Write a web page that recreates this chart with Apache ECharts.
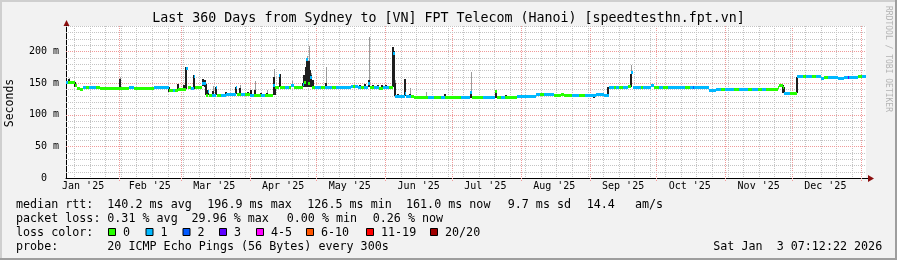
<!DOCTYPE html>
<html><head><meta charset="utf-8">
<script src="https://cdn.jsdelivr.net/npm/echarts@6/dist/echarts.min.js"></script>
<style>html,body{margin:0;padding:0;background:#f2f2f2}#c{width:897px;height:260px}</style>
</head><body><div id="c"></div>
<script>
// ---------------- data ----------------
const chartStart = '2025-01-08 07:12';
const chartEnd = '2026-01-03 07:12';
const monthStarts = ['2025-02-01','2025-03-01','2025-04-01','2025-05-01','2025-06-01','2025-07-01','2025-08-01','2025-09-01','2025-10-01','2025-11-01','2025-12-01','2026-01-01'];
const monthLabelDates = ['2025-01-16','2025-02-15','2025-03-16','2025-04-16','2025-05-16','2025-06-16','2025-07-16','2025-08-16','2025-09-16','2025-10-16','2025-11-16','2025-12-16'];
const monthLabels = ["Jan '25","Feb '25","Mar '25","Apr '25","May '25","Jun '25","Jul '25","Aug '25","Sep '25","Oct '25","Nov '25","Dec '25"];
const firstWeekLine = '2025-01-12';
const yMinorTicks = [10,20,30,40,60,70,80,90,110,120,130,140,160,170,180,190,210,220,230,240];
const yMajorTicks = [50,100,150,200];
const yLabelValues = [0,50,100,150,200];
const yLabelTexts = ['0  ','50 m','100 m','150 m','200 m'];

const medianStart = [
'2025-01-08 07:12','2025-01-09 00:00','2025-01-12 06:00','2025-01-13 06:00','2025-01-14 18:00','2025-01-16 00:00','2025-01-17 12:00','2025-01-18 12:00','2025-01-22 00:00','2025-01-23 12:00',
'2025-02-05 12:00','2025-02-07 18:00','2025-02-16 18:00','2025-02-23 18:00','2025-02-25 12:00','2025-02-26 12:00','2025-02-27 18:00',
'2025-03-03 06:00','2025-03-04 06:00','2025-03-05 12:00','2025-03-06 18:00','2025-03-07 06:00','2025-03-10 12:00','2025-03-12 06:00','2025-03-13 06:00','2025-03-13 18:00','2025-03-15 00:00','2025-03-16 18:00','2025-03-17 06:00','2025-03-19 00:00','2025-03-21 12:00','2025-03-25 18:00','2025-03-26 06:00','2025-03-28 00:00','2025-03-30 00:00',
'2025-04-01 00:00','2025-04-03 00:00','2025-04-06 00:00','2025-04-08 00:00','2025-04-11 12:00','2025-04-12 12:00','2025-04-14 06:00','2025-04-14 18:00','2025-04-17 00:00','2025-04-18 12:00','2025-04-19 12:00','2025-04-21 00:00','2025-04-24 18:00','2025-04-25 12:00','2025-04-26 12:00','2025-04-27 06:00','2025-04-28 06:00','2025-04-29 00:00','2025-04-30 12:00',
'2025-05-03 00:00','2025-05-05 00:00','2025-05-08 00:00','2025-05-10 00:00','2025-05-16 12:00','2025-05-17 12:00','2025-05-18 12:00','2025-05-19 12:00','2025-05-21 00:00','2025-05-22 12:00','2025-05-24 06:00','2025-05-25 00:00','2025-05-27 00:00','2025-05-29 00:00','2025-05-31 00:00',
'2025-06-02 12:00','2025-06-04 06:00','2025-06-05 12:00','2025-06-09 18:00','2025-06-10 12:00','2025-06-12 18:00','2025-06-14 00:00','2025-06-20 00:00','2025-06-23 00:00','2025-06-26 00:00','2025-06-28 00:00',
'2025-07-05 00:00','2025-07-09 06:00','2025-07-10 00:00','2025-07-15 00:00','2025-07-20 12:00','2025-07-21 06:00','2025-07-23 00:00','2025-07-25 00:00','2025-07-30 06:00',
'2025-08-07 18:00','2025-08-09 12:00','2025-08-11 12:00','2025-08-13 18:00','2025-08-16 00:00','2025-08-19 00:00','2025-08-20 12:00','2025-08-24 00:00','2025-08-27 00:00','2025-08-30 00:00',
'2025-09-03 18:00','2025-09-07 12:00','2025-09-09 18:00','2025-09-12 00:00','2025-09-13 00:00','2025-09-14 06:00','2025-09-16 00:00','2025-09-18 00:00','2025-09-19 12:00','2025-09-20 12:00','2025-09-24 00:00','2025-09-25 00:00','2025-09-28 12:00','2025-09-30 00:00',
'2025-10-02 00:00','2025-10-04 00:00','2025-10-06 00:00','2025-10-08 06:00','2025-10-14 00:00','2025-10-16 00:00','2025-10-17 12:00','2025-10-18 00:00','2025-10-24 18:00','2025-10-27 18:00','2025-10-30 00:00',
'2025-11-01 00:00','2025-11-05 00:00','2025-11-07 00:00','2025-11-11 00:00','2025-11-13 00:00','2025-11-15 12:00','2025-11-17 12:00','2025-11-19 12:00','2025-11-24 12:00','2025-11-25 06:00','2025-11-26 18:00','2025-11-27 12:00','2025-11-30 00:00',
'2025-12-03 06:00','2025-12-06 00:00','2025-12-07 12:00','2025-12-10 00:00','2025-12-12 00:00','2025-12-14 00:00','2025-12-15 12:00','2025-12-17 00:00','2025-12-21 12:00','2025-12-24 12:00','2025-12-26 00:00','2025-12-26 12:00','2025-12-30 12:00','2026-01-01 12:00'
];
const medianValue = [
151,151,147,142.5,141,143.5,143,143,143.5,141.5,
143.5,141.5,143.5,139,139,139,140.5,
174,143,142,161,144,149.5,131,138,131,131,143,131,131.5,132,143,132,132,132,
131.5,131.5,131.5,131.5,147,143.5,162,143.5,143.5,143.5,147,143.5,148,152,188,150,159,144,144,
144,144,144,144,146,146,146,144,144,144,150,143.5,143.5,142,143.5,
143,196.9,129.4,133.7,129.4,129,127.3,127.3,127.3,127.3,128,
128,136,127.3,127.3,137,127.8,127.8,128.4,130,
132.7,132,132,133,131.6,133,131.6,131.6,131.6,131.6,
133,131,143.5,143.5,143.5,144,144,146,167,143.5,143.5,143.5,147,143,
143,143,143,144,144,144,144,144,139,141,141,
141,141,141,141,141,140,140,140,143,147,143,134,134,
160.5,160.5,160.5,160.5,160.5,158,160,160,158.5,159,159,159,161,161
];
const medianLoss = [
1,0,0,0,0,1,0,1,0,0,
1,0,1,0,1,0,0,
1,0,1,1,0,1,0,1,0,1,1,0,1,1,1,0,1,0,
1,0,1,0,1,0,1,0,1,0,1,0,1,0,1,0,1,0,1,
0,1,0,1,1,0,1,1,0,1,1,0,1,0,1,
0,1,1,1,1,0,0,1,0,1,0,
1,1,0,1,0,0,1,0,1,
1,0,1,1,0,0,0,1,0,1,
1,1,1,0,1,0,1,0,1,1,0,1,1,0,
1,0,1,1,0,1,2,1,1,1,0,
1,0,1,0,1,0,1,0,0,0,0,1,0,
1,0,1,0,1,1,0,1,1,1,3,1,0,1
];

const smokeDate = ['2025-01-09 14:00','2025-01-12 12:00','2025-02-01 14:00','2025-02-23 18:00','2025-02-27 18:00','2025-03-02 12:00','2025-03-03 12:00','2025-03-06 18:00','2025-03-10 18:00','2025-03-11 18:00','2025-03-12 06:00','2025-03-13 06:00','2025-03-15 06:00','2025-03-16 18:00','2025-03-21 12:00','2025-03-25 18:00','2025-03-27 18:00','2025-03-31 00:00','2025-04-01 18:00','2025-04-03 12:00','2025-04-06 00:00','2025-04-08 18:00','2025-04-11 18:00','2025-04-12 06:00','2025-04-14 12:00','2025-04-20 00:00','2025-04-24 18:00','2025-04-25 12:00','2025-04-26 06:00','2025-04-26 18:00','2025-04-27 12:00','2025-04-28 00:00','2025-04-28 12:00','2025-04-29 06:00','2025-05-05 06:00','2025-05-20 12:00','2025-05-22 18:00','2025-05-24 12:00','2025-05-26 12:00','2025-05-28 18:00','2025-05-30 12:00','2025-06-01 06:00','2025-06-04 06:00','2025-06-04 18:00','2025-06-05 12:00','2025-06-06 12:00','2025-06-09 18:00','2025-06-12 06:00','2025-06-19 06:00','2025-06-27 18:00','2025-07-09 12:00','2025-07-20 18:00','2025-07-25 12:00','2025-09-03 00:00','2025-09-09 06:00','2025-09-18 12:00','2025-09-19 12:00','2025-11-26 18:00','2025-11-27 06:00','2025-12-03 06:00'];
const smokeLow  = [148,143,141,136,140,140,140,141,145,144,131,131,131,131,131,132,132,132,132,132,131,131,131,131,143,143,143,143,143,143,143,143,143,143,143,143,143,143,143,143,143,143,143,143,129,129,129,129,127,127,127,127,127,127,131,143,143,134,134,134];
const smokeHigh = [157,151,157,143,148,147,175,163,157,155,148,139,138,144,136,144,141.6,136,138.4,138.4,135,135,159,145,165,147,150,163,175,189,185,170,162,155,150,147,148,155,147,147,147,147,207,200,150,133,157,133,127,132,136,137,131,132,143.5,147,165,147,143,160];
const smokeTop  = [158,151,159,143,148,147,175,163,157,155,148,139,145,144,136,144,147,136,138.4,153,135,139,172,145,165,153,150,163,175,192,208,170,166,155,176,147,148,223,147,147,147,147,207,200,155,133,157,141.6,136,132,168,137,131,132,143.5,147,178,147,143,160];

const lossLabels = ['0','1','2','3','4-5','6-10','11-19','20/20'];
const lossColors = ['#26ff00','#00b8ff','#0059ff','#5e00ff','#ff00ff','#ff5500','#ff0000','#a00000'];

const titleText = 'Last 360 Days from Sydney to [VN] FPT Telecom (Hanoi) [speedtesthn.fpt.vn]';
const legendRows = [
  [['median rtt:',16],['140.2 ms avg',107.3],['196.9 ms max',207.3],['126.5 ms min',307.3],['161.0 ms now',406],['9.7 ms sd',507.7],['14.4',586.7],['am/s',635]],
  [['packet loss:',16],['0.31 % avg',107.3],['29.96 % max',191.5],['0.00 % min',286.7],['0.26 % now',372.7]],
  [['loss color:',16]],
  [['probe:',16],['20 ICMP Echo Pings (56 Bytes) every 300s',107.3],['Sat Jan  3 07:12:22 2026',713.3]]
];

// ---------------- helpers ----------------
function ts(s){const m=s.match(/(\d+)-(\d+)-(\d+)(?:\s+(\d+):(\d+))?/);return new Date(+m[1],+m[2]-1,+m[3],+(m[4]||0),+(m[5]||0)).getTime();}
const t0 = ts(chartStart), t1 = ts(chartEnd);
const DAY = 86400000;
const FONT = 'DejaVu Sans Mono';

const medianData = medianStart.map((s,i)=>[ts(s), i+1<medianStart.length?ts(medianStart[i+1]):t1, medianValue[i], medianLoss[i]]);
const smokeData = smokeDate.map((s,i)=>[ts(s), smokeLow[i], smokeHigh[i], smokeTop[i]]);

const vGrid = [];
for (let t = ts(firstWeekLine); t < t1; t += 7*DAY) vGrid.push([t, 0, 0]);
monthStarts.forEach(s=>vGrid.push([ts(s), 0, 1]));
const hGrid = yMinorTicks.map(v=>[t0, v, 0]).concat(yMajorTicks.map(v=>[t0, v, 1]));
const labelTs = monthLabelDates.map(ts);

const GRID_MINOR = '#c4c4c4', GRID_MAJOR = '#f09a9a';

// ---------------- graphics (legend, frame) ----------------
const graphics = [];
graphics.push({type:'rect',shape:{x:0,y:0,width:897,height:2},style:{fill:'#cfcfcf'},silent:true});
graphics.push({type:'rect',shape:{x:0,y:0,width:2,height:260},style:{fill:'#cfcfcf'},silent:true});
graphics.push({type:'rect',shape:{x:0,y:258,width:897,height:2},style:{fill:'#9e9e9e'},silent:true});
graphics.push({type:'rect',shape:{x:895,y:0,width:2,height:260},style:{fill:'#9e9e9e'},silent:true});
const rowY = [204.5, 218.5, 232.5, 246.5];
legendRows.forEach((row,r)=>row.forEach(([txt,x])=>{
  graphics.push({type:'text',x:x,y:rowY[r],silent:true,style:{text:txt,fill:'#000',fontFamily:FONT,fontSize:11.7,verticalAlign:'middle',align:'left'}});
}));
const boxX = [108,145.5,182.5,219,256,306,366,430];
lossLabels.forEach((lab,i)=>{
  graphics.push({type:'rect',shape:{x:boxX[i]+0.5,y:228.5,width:7,height:7},silent:true,style:{fill:lossColors[i],stroke:'#000',lineWidth:1}});
  graphics.push({type:'text',x:boxX[i]+15,y:rowY[2],silent:true,style:{text:lab,fill:'#000',fontFamily:FONT,fontSize:11.7,verticalAlign:'middle',align:'left'}});
});
graphics.push({type:'text',x:10,y:103,rotation:Math.PI/2,silent:true,style:{text:'Seconds',fill:'#000',fontFamily:FONT,fontSize:11.5,verticalAlign:'middle',align:'center'}});
graphics.push({type:'text',x:888,y:59,rotation:-Math.PI/2,silent:true,style:{text:'RRDTOOL / TOBI OETIKER',fill:'#b4b4b4',fontFamily:FONT,fontSize:8,verticalAlign:'middle',align:'center'}});
graphics.push({type:'line',shape:{x1:866,y1:178.5,x2:869,y2:178.5},style:{stroke:'#000',lineWidth:1},silent:true});
graphics.push({type:'polygon',shape:{points:[[868,175],[874,178.5],[868,182]]},style:{fill:'#8b0f0f'},silent:true});
graphics.push({type:'polygon',shape:{points:[[63.5,26],[66.5,20],[69.5,26]]},style:{fill:'#8b0f0f'},silent:true});

// ---------------- chart ----------------
const chart = echarts.init(document.getElementById('c'), null, {renderer:'canvas'});
chart.setOption({
  animation:false,
  backgroundColor:'#f2f2f2',
  title:{text:titleText,left:'center',top:12,padding:0,textStyle:{fontFamily:FONT,fontSize:13.3,fontWeight:'normal',color:'#000'}},
  grid:{left:66,top:26,width:800,height:152,show:true,backgroundColor:'#ffffff',borderWidth:0,containLabel:false},
  xAxis:{type:'value',min:t0,max:t1,scale:true,
    axisLine:{show:true,lineStyle:{color:'#000',width:1}},
    axisTick:{show:false},splitLine:{show:false},
    axisLabel:{customValues:labelTs,hideOverlap:false,margin:3,color:'#000',fontFamily:FONT,fontSize:10,
      formatter:function(v){let bi=0,bd=Infinity;labelTs.forEach((t,i)=>{const d=Math.abs(t-v);if(d<bd){bd=d;bi=i;}});return monthLabels[bi];}}},
  yAxis:{type:'value',min:0,max:240,
    axisLine:{show:true,lineStyle:{color:'#000',width:1}},
    axisTick:{show:false},splitLine:{show:false},
    axisLabel:{customValues:yLabelValues,margin:7,color:'#000',fontFamily:FONT,fontSize:10,
      formatter:function(v){const i=yLabelValues.indexOf(v);return i>=0?yLabelTexts[i]:'';}}},
  graphic:graphics,
  series:[
    {type:'custom',name:'vgrid',silent:true,z:1,data:vGrid,encode:{x:0,y:1},
     renderItem:function(params,api){const cs=params.coordSys;const x=Math.round(api.coord([api.value(0),0])[0])+0.5;const k=api.value(2);
       return {type:'line',shape:{x1:x,y1:cs.y,x2:x,y2:cs.y+cs.height+(k?3:0)},style:{stroke:k?GRID_MAJOR:GRID_MINOR,lineWidth:1,lineDash:[1,1]}};}},
    {type:'custom',name:'hgrid',silent:true,z:1,data:hGrid,encode:{x:0,y:1},
     renderItem:function(params,api){const cs=params.coordSys;const y=Math.round(api.coord([api.value(0),api.value(1)])[1])+0.5;const k=api.value(2);
       return {type:'line',shape:{x1:cs.x,y1:y,x2:cs.x+cs.width,y2:y},style:{stroke:k?GRID_MAJOR:GRID_MINOR,lineWidth:1,lineDash:[1,1]}};}},
    {type:'custom',name:'smoke',silent:true,z:2,data:smokeData,encode:{x:0,y:[1,2,3]},
     renderItem:function(params,api){const x=Math.round(api.coord([api.value(0),0])[0]);
       const yl=Math.round(api.coord([api.value(0),api.value(1)])[1]);const yh=Math.round(api.coord([api.value(0),api.value(2)])[1]);const yt=Math.round(api.coord([api.value(0),api.value(3)])[1]);
       const ch=[];
       if(yt<yh) ch.push({type:'rect',shape:{x:x,y:yt,width:1,height:yh-yt},style:{fill:'#9a9a9a'}});
       if(yh<yl) ch.push({type:'rect',shape:{x:x-1,y:yh,width:2,height:yl-yh},style:{fill:'#1e1e1e'}});
       return {type:'group',children:ch};}},
    {type:'custom',name:'median',silent:true,z:3,data:medianData,encode:{x:[0,1],y:2},
     renderItem:function(params,api){const a=api.coord([api.value(0),api.value(2)]);const b=api.coord([api.value(1),api.value(2)]);
       const xa=Math.round(a[0]);const xb=Math.max(Math.round(b[0]),xa+1);const y=Math.round(a[1])-1;
       return {type:'rect',shape:{x:xa,y:y,width:xb-xa,height:3},style:{fill:lossColors[api.value(3)]}};}}
  ]
});
</script></body></html>
